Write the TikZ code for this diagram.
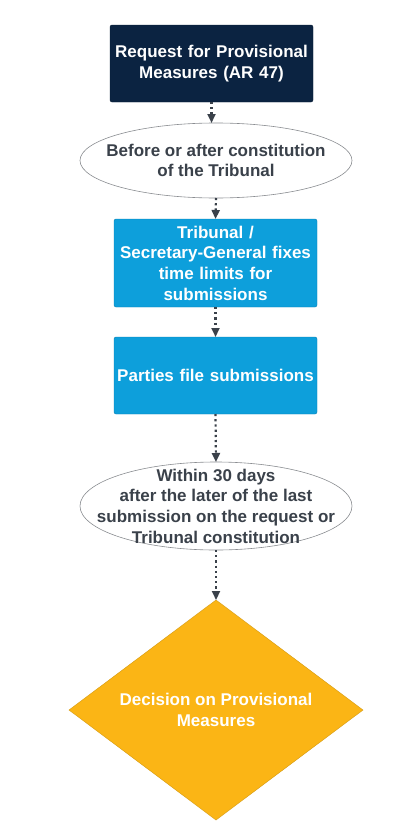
\documentclass[tikz,border=0pt]{standalone}
\usepackage{fontspec}
\setmainfont{Liberation Sans}
\usepackage{tikz}
\usetikzlibrary{arrows.meta,positioning,shapes.geometric}

\definecolor{navy}{HTML}{0B2341}
\definecolor{skyblue}{HTML}{0D9FDB}
\definecolor{amber}{HTML}{FBB515}
\definecolor{inkgray}{HTML}{3A414A}
\definecolor{rimgray}{HTML}{8A8D91}

\begin{document}
\begin{tikzpicture}[
  x=1pt, y=1pt,
  box/.style={rectangle, rounded corners=2pt, draw=#1!80!black, fill=#1,
              text width=201pt, minimum width=203pt, align=center, inner sep=1pt,
              outer sep=0pt, text=white,
              font=\fontsize{17}{20.7}\selectfont\bfseries},
  oval/.style={ellipse, draw=rimgray, fill=white, line width=0.6pt,
               minimum width=272pt, inner sep=0pt, outer sep=0pt},
  ovaltext/.style={align=center, text=inkgray, inner sep=0pt,
                   font=\fontsize{17}{20.7}\selectfont\bfseries},
  decision/.style={diamond, aspect=1.35, fill=amber, draw=amber!85!black,
                   line width=0.4pt, minimum width=294pt, minimum height=220pt,
                   inner sep=0pt, outer sep=0pt, align=center, text=white,
                   font=\fontsize{17}{20.7}\selectfont\bfseries},
  arr/.style={-{Triangle[length=9pt, width=8pt]}, draw=inkgray, line width=2.2pt,
              dash pattern=on 2.2pt off 3pt}]
\useasboundingbox (0,0) rectangle (418,-835);
\node[box=navy, minimum height=77pt] (req) at (211.5,-63.5)
  {Request for Provisional\\Measures (AR 47)};
\node[oval, minimum height=75pt, below=21pt of req, xshift=4.5pt] (timing) {};
\node[ovaltext] (timingtxt) at (timing) {Before or after constitution\\of the Tribunal};
\node[box=skyblue, minimum height=88pt, below=21pt of timing, xshift=-0.5pt] (limits)
  {Tribunal /\\Secretary-General fixes\\time limits for\\submissions};
\node[box=skyblue, minimum height=77pt, below=30pt of limits] (file)
  {Parties file submissions};
\node[oval, minimum height=88pt, below=48pt of file, xshift=0.5pt] (within) {};
\node[ovaltext] (withintxt) at (within) {Within 30 days\\after the later of the last\\
  submission on the request or\\Tribunal constitution};
\node[decision, below=50pt of within] (decide) {Decision on Provisional\\Measures};
\draw[arr] (req.south) -- (req.south |- timing.north);
\draw[arr] (timing.south) -- (limits.north);
\draw[arr] (limits.south) -- (file.north);
\draw[arr] (file.south) -- (within.north);
\draw[arr] (within.south) -- (decide.north);
\end{tikzpicture}
\end{document}
